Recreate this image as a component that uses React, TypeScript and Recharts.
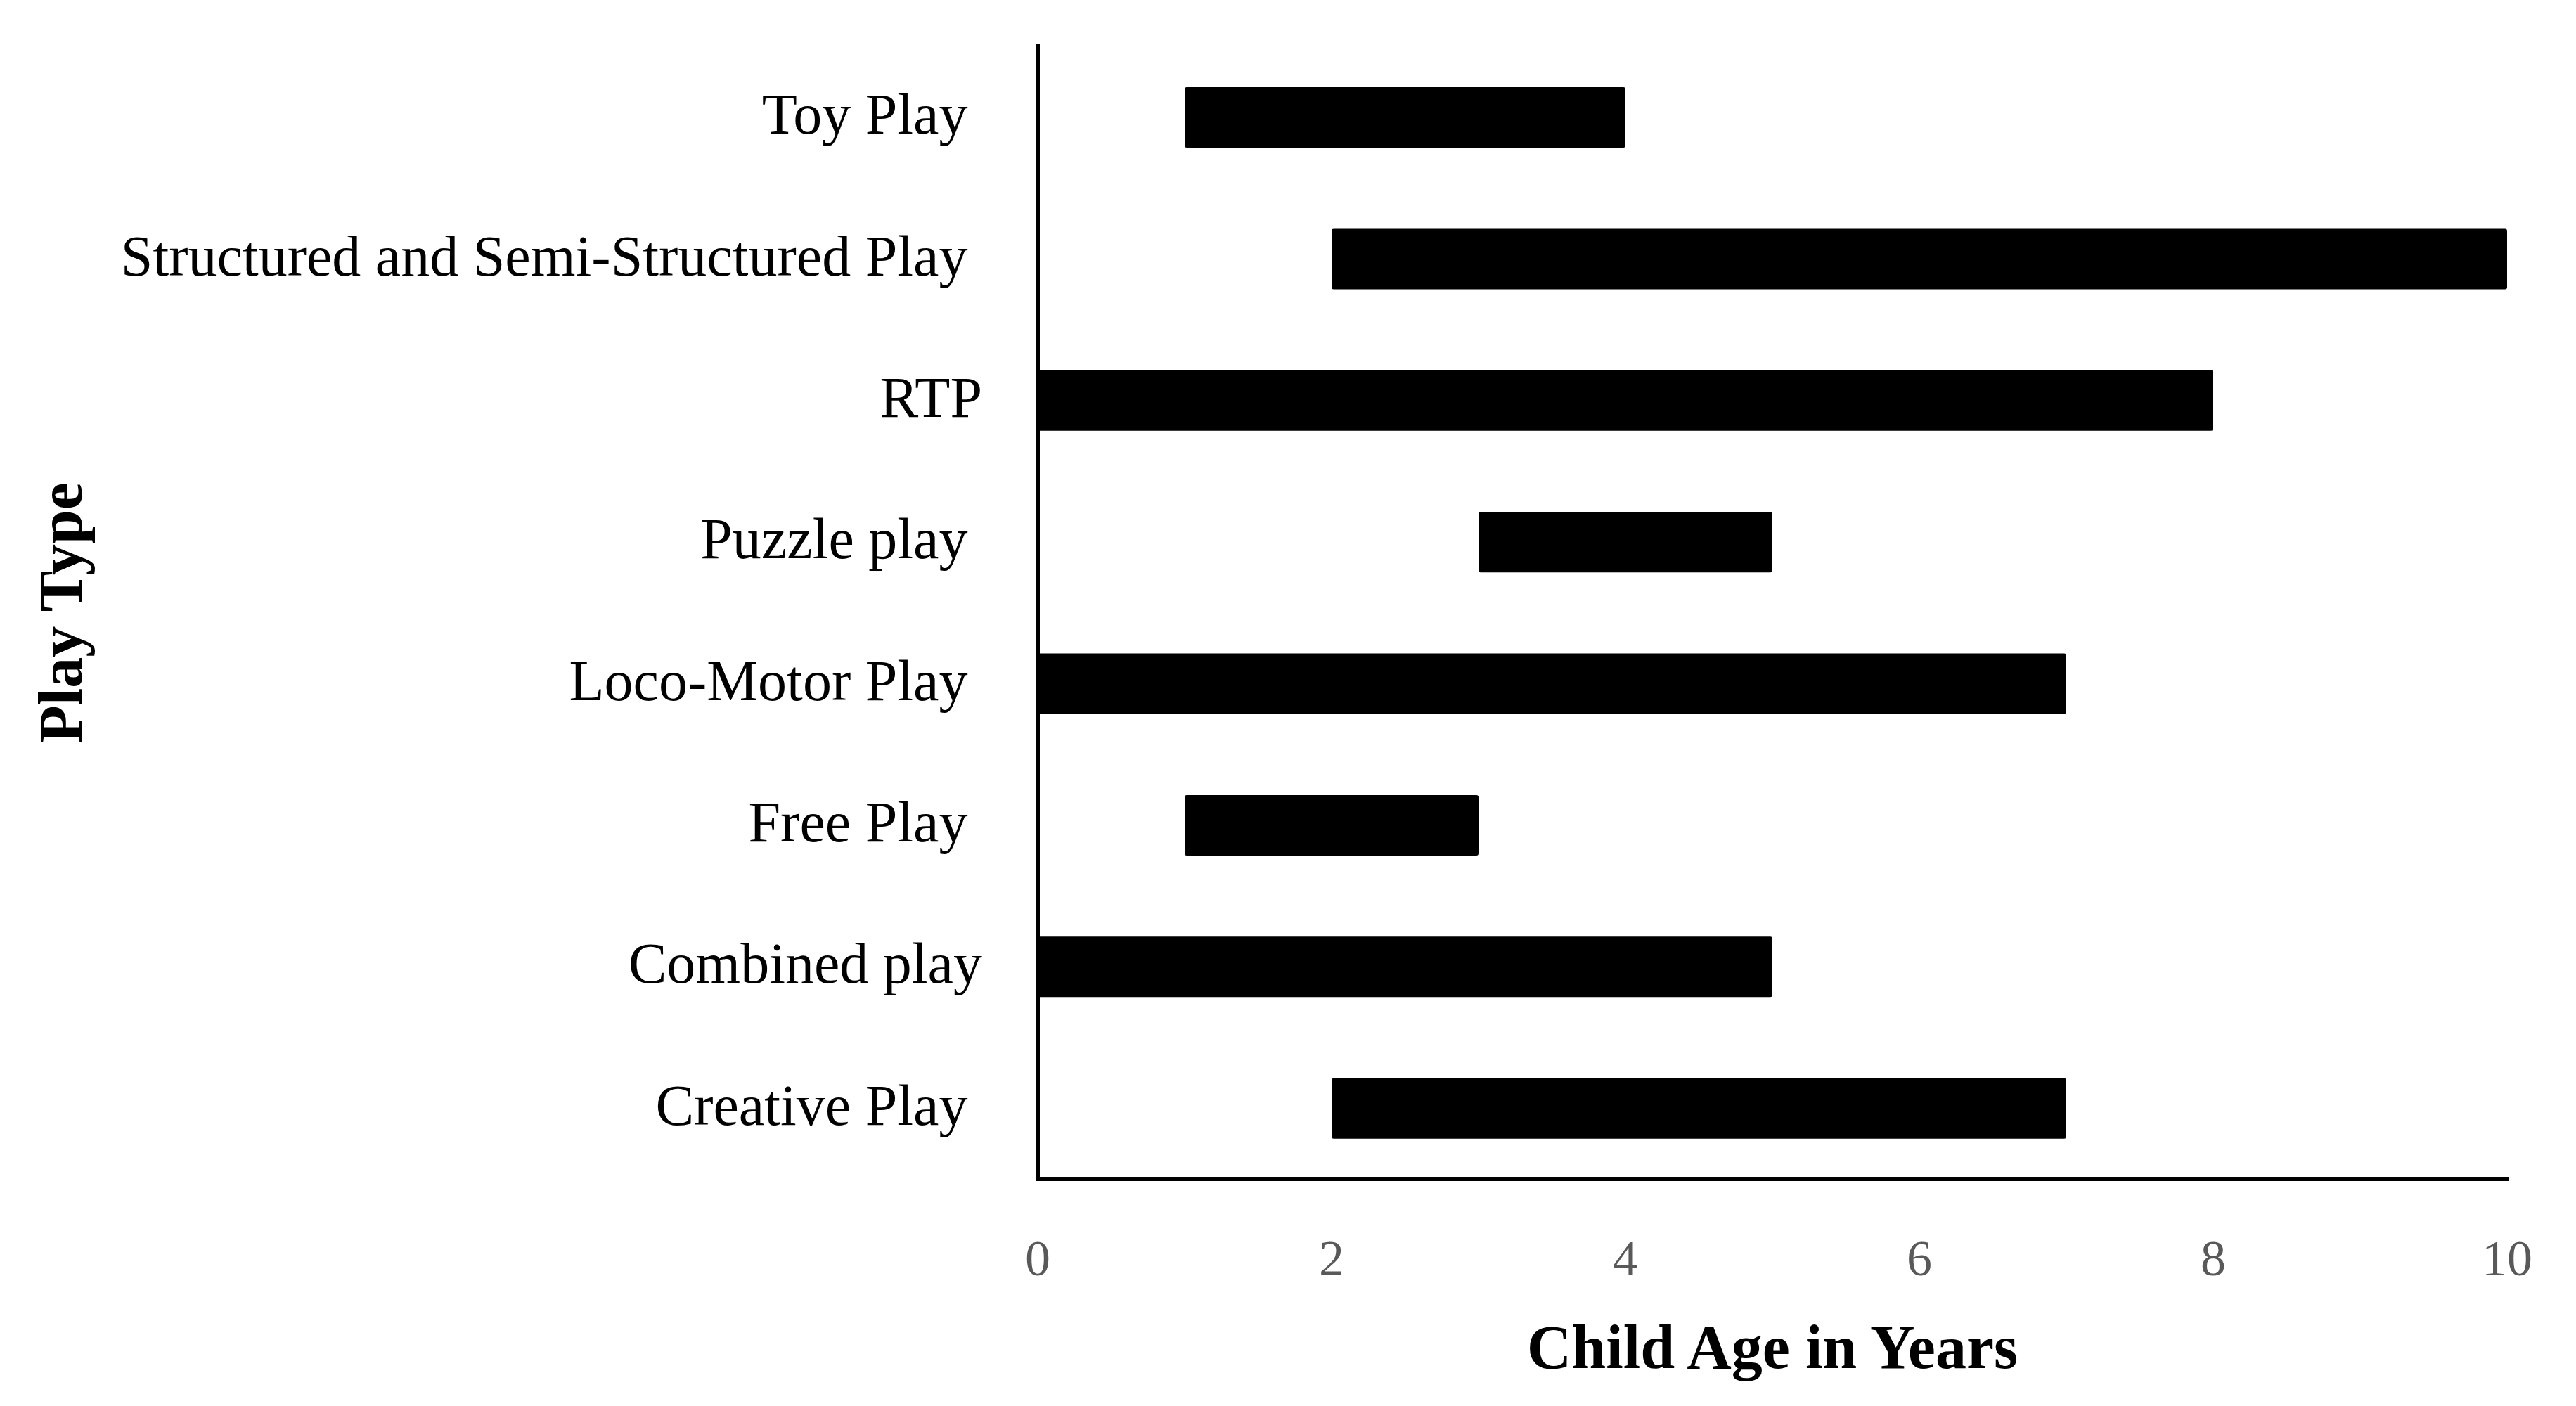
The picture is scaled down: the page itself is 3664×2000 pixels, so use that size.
import { Bar, BarChart, Label, XAxis, YAxis } from "recharts";

const playTypes = [
  "Toy Play ",
  "Structured and Semi-Structured Play ",
  "RTP",
  "Puzzle play ",
  "Loco-Motor Play ",
  "Free Play ",
  "Combined play",
  "Creative Play ",
];
const startAges = [1, 2, 0, 3, 0, 1, 0, 2];
const endAges = [4, 10, 8, 5, 7, 3, 5, 7];
const ageTicks = [0, 2, 4, 6, 8, 10];

const data = playTypes.map((name, i) => ({
  name,
  start: startAges[i],
  span: endAges[i] - startAges[i],
}));

const font = '"Liberation Serif", "Times New Roman", serif';

function PlayTick({ x, y, payload }: any) {
  return (
    <text
      x={x}
      y={y - 4}
      textAnchor="end"
      dominantBaseline="central"
      fontFamily={font}
      fontSize={82}
      fill="#000"
      xmlSpace="preserve"
      style={{ whiteSpace: "pre" }}
    >
      {payload.value}
    </text>
  );
}

function AgeTick({ x, y, payload }: any) {
  return (
    <text x={x} y={y} textAnchor="middle" dominantBaseline="central" fontFamily={font} fontSize={72} fill="#595959">
      {payload.value}
    </text>
  );
}

export default function App() {
  return (
    <div style={{ position: "absolute", left: 0, top: 0, background: "#fff" }}>
      <BarChart
        width={3664}
        height={2000}
        data={data}
        layout="vertical"
        margin={{ top: 66, right: 98, bottom: 0, left: 0 }}
      >
        <XAxis
          type="number"
          domain={[0, 10]}
          ticks={ageTicks}
          height={323}
          tickSize={0}
          tickMargin={113}
          tickLine={false}
          axisLine={{ stroke: "#000", strokeWidth: 6, strokeLinecap: "square" }}
          tick={<AgeTick />}
        >
          <Label
            content={({ viewBox }: any) => (
              <text
                x={viewBox.x + viewBox.width / 2}
                y={viewBox.y + 239}
                textAnchor="middle"
                dominantBaseline="central"
                fontFamily={font}
                fontWeight="bold"
                fontSize={88}
                fill="#000"
              >
                Child Age in Years
              </text>
            )}
          />
        </XAxis>
        <YAxis
          type="category"
          dataKey="name"
          width={1476}
          tickSize={0}
          tickMargin={79}
          tickLine={false}
          axisLine={{ stroke: "#000", strokeWidth: 6, strokeLinecap: "square" }}
          tick={<PlayTick />}
          interval={0}
        >
          <Label
            content={({ viewBox }: any) => {
              const cx = 86;
              const cy = viewBox.y + viewBox.height / 2;
              return (
                <text
                  x={cx}
                  y={cy}
                  transform={`rotate(-90 ${cx} ${cy})`}
                  textAnchor="middle"
                  dominantBaseline="central"
                  fontFamily={font}
                  fontWeight="bold"
                  fontSize={88}
                  fill="#000"
                >
                  Play Type
                </text>
              );
            }}
          />
        </YAxis>
        <Bar dataKey="start" stackId="age" fill="transparent" barSize={86} isAnimationActive={false} />
        <Bar dataKey="span" stackId="age" fill="#000" barSize={86} radius={3} isAnimationActive={false} />
      </BarChart>
    </div>
  );
}
